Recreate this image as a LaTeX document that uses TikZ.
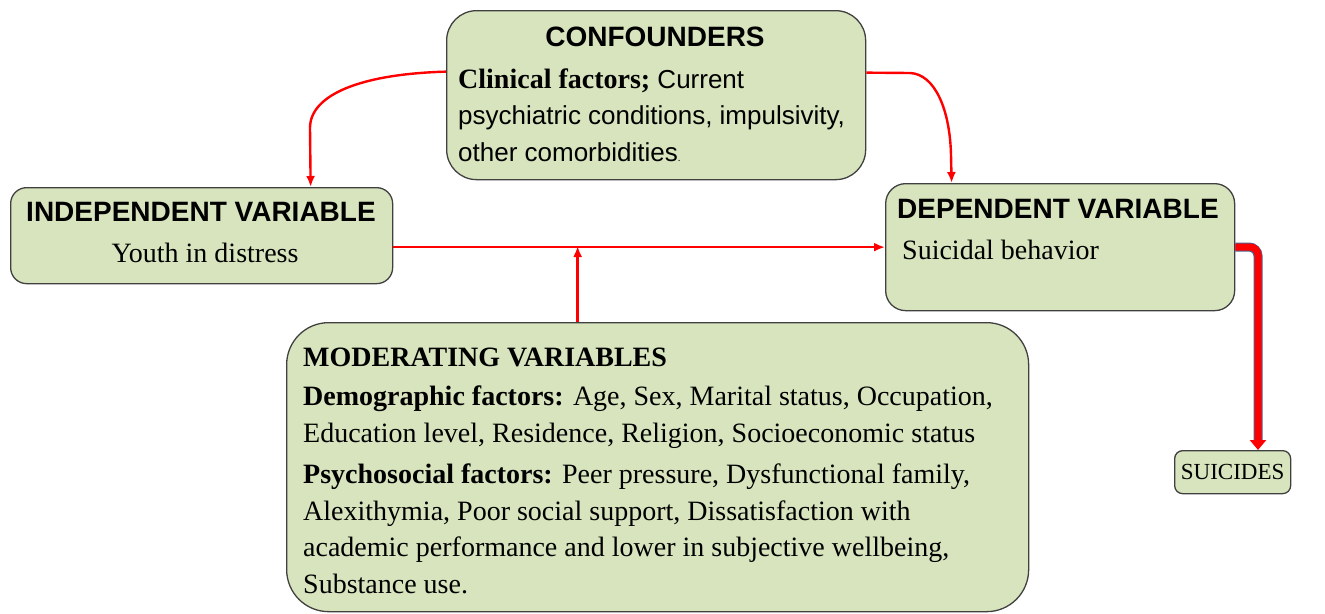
\documentclass[tikz,border=0pt]{standalone}
\usepackage{fontspec}
\setmainfont{Liberation Serif}
\setsansfont{Liberation Sans}
\usetikzlibrary{arrows.meta}

\definecolor{boxgreen}{HTML}{D7E4BD}
\definecolor{boxline}{HTML}{404040}
\definecolor{slateline}{HTML}{4F5F8F}

\tikzset{
  varbox/.style={draw=boxline, fill=boxgreen, line width=1.3pt, rounded corners=#1, anchor=north west, inner sep=0pt},
  head/.style={font=\sffamily\bfseries\fontsize{28}{30}\selectfont, inner sep=0pt},
  body/.style={font=\fontsize{28}{36.5}\selectfont, inner sep=0pt, align=left},
  link/.style={draw=red, line width=2.4pt, -{Latex[length=11pt,width=9pt]}},
}

\begin{document}
\begin{tikzpicture}[x=1pt,y=-1pt]
\useasboundingbox (0,0) rectangle (1325,613);

% Kästen
\node[varbox=30pt, minimum width=419pt, minimum height=169pt] (conf) at (446,10) {};
\node[varbox=16pt, minimum width=382pt, minimum height=96pt] (indep) at (10,187) {};
\node[varbox=20pt, minimum width=349pt, minimum height=127pt] (dep) at (885,183) {};
\node[varbox=42pt, minimum width=742pt, minimum height=289pt] (mod) at (286,322) {};
\node[varbox=8pt, minimum width=116pt, minimum height=43pt] (sui) at (1174,450) {};

% Störfaktoren
\node[head] (confhead) at (655,37) {CONFOUNDERS};
\node[body, anchor=west, font=\sffamily\fontsize{26}{36.5}\selectfont] (conftext) at (458,115)
  {{\rmfamily\fontsize{28}{36.5}\selectfont\bfseries Clinical factors;} Current\\
   psychiatric conditions, impulsivity,\\
   other comorbidities{\fontsize{10}{10}\selectfont .}};

% unabhängige / abhängige Variable
\node[head] (indephead) at (201,212) {INDEPENDENT VARIABLE};
\node[body] (indeptext) at (205,253) {Youth in distress};
\node[head, anchor=west] (dephead) at (897,209) {DEPENDENT VARIABLE};
\node[body, anchor=west] (deptext) at (902,250) {Suicidal behavior};

% Moderatoren
\node[body, anchor=west, font=\bfseries\fontsize{28}{36.5}\selectfont] (modhead) at (303,357) {MODERATING VARIABLES};
\node[body, anchor=west] (moddemo) at (303,417)
  {\textbf{Demographic factors:} Age, Sex, Marital status, Occupation,\\
   Education level, Residence, Religion, Socioeconomic status};
\node[body, anchor=west] (modpsy) at (303,529)
  {\textbf{Psychosocial factors:} Peer pressure, Dysfunctional family,\\
   Alexithymia, Poor social support, Dissatisfaction with\\
   academic performance and lower in subjective wellbeing,\\
   Substance use.};

\node[body, font=\fontsize{23}{25}\selectfont] (suitext) at (sui.center) {SUICIDES};

% Pfeile
\draw[link] ([yshift=23.5pt]conf.west) .. controls (360,74) and (310,95) .. (310,128) -- ([xshift=109pt]indep.north);
\draw[link] ([yshift=22.5pt]conf.east) -- (910,73) .. controls (935,74) and (950,110) .. (951,155) -- ([xshift=-108.5pt]dep.north);
\draw[link] (indep.east |- dep.west) -- (dep.west);
\draw[link] ([xshift=-80pt]mod.north) -- ++(0,-76);

\coordinate (bend) at (1258,247);
\draw[slateline, line width=9pt, rounded corners=9pt, shorten >=10pt] (dep.east |- bend) -- (bend) -- (bend |- sui.north);
\draw[red, line width=7pt, rounded corners=8pt, -{Triangle[length=10pt,width=16pt]}] (dep.east |- bend) -- (bend) -- (bend |- sui.north);

\end{tikzpicture}
\end{document}
